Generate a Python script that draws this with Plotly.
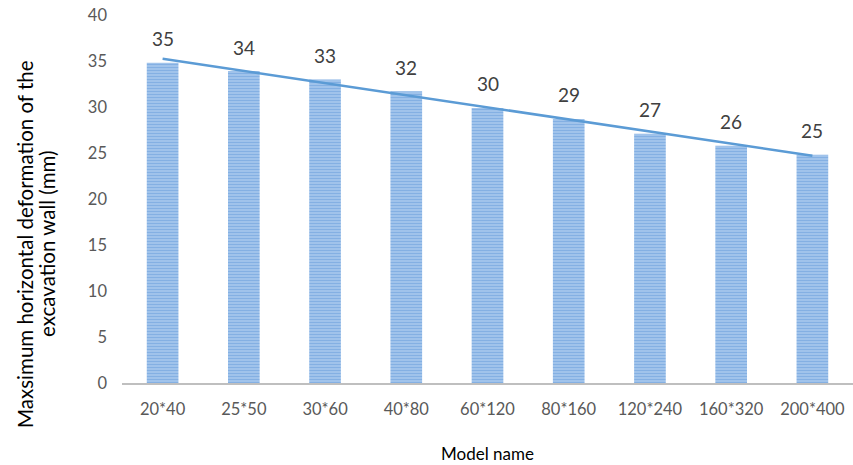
import numpy as np
import plotly.graph_objects as go

models = ["20*40", "25*50", "30*60", "40*80", "60*120", "80*160", "120*240", "160*320", "200*400"]
deformation = [34.8, 33.9, 33.0, 31.7, 29.9, 28.7, 27.1, 25.8, 24.8]
y_title_lines = ["Maxsimum horizontal deformation of the", "excavation wall (mm)"]

# Linear trend through the bar values
idx = np.arange(len(models))
slope, intercept = np.polyfit(idx, deformation, 1)
trend = slope * idx + intercept

font_family = "Lato, 'Open Sans', sans-serif"

fig = go.Figure()
fig.add_trace(go.Bar(
    x=models,
    y=deformation,
    width=0.39,
    marker=dict(
        color="#9cc0e8",
        line=dict(width=0),
        pattern=dict(shape="-", size=3, solidity=0.5, fgcolor="#5f98d8", bgcolor="#a9c9ee"),
    ),
    showlegend=False,
))
fig.add_trace(go.Scatter(
    x=models,
    y=trend,
    mode="lines",
    line=dict(color="#5b9bd5", width=2.5),
    showlegend=False,
    hoverinfo="skip",
))

# value labels above each bar
for m, v in zip(models, deformation):
    fig.add_annotation(
        x=m, y=v, text=f"{v:.0f}", showarrow=False,
        yshift=24, yanchor="middle",
        font=dict(family=font_family, size=19, color="#404040"),
    )

# two-line vertical y-axis title
for line, shift in zip(y_title_lines, [-97, -75]):
    fig.add_annotation(
        xref="paper", yref="paper", x=0, y=0.378, xshift=shift,
        text=line, textangle=-90, showarrow=False,
        xanchor="center", yanchor="middle",
        font=dict(family=font_family, size=20.5, color="#000000"),
    )

fig.update_layout(
    width=853,
    height=465,
    margin=dict(l=122, r=0, t=15, b=82),
    paper_bgcolor="white",
    plot_bgcolor="white",
    font=dict(family=font_family, color="#595959"),
    xaxis=dict(
        showline=True,
        linecolor="#bfbfbf",
        linewidth=1.5,
        ticks="",
        tickfont=dict(size=16.5, color="#595959"),
        ticklabelstandoff=10,
        title=dict(text="Model name", font=dict(size=17, color="#000000"), standoff=31),
    ),
    yaxis=dict(
        range=[0, 40],
        dtick=5,
        showgrid=False,
        zeroline=False,
        showline=False,
        tickfont=dict(size=16.5, color="#595959"),
        ticklabelstandoff=14,
    ),
)

fig.write_html("out.html")
